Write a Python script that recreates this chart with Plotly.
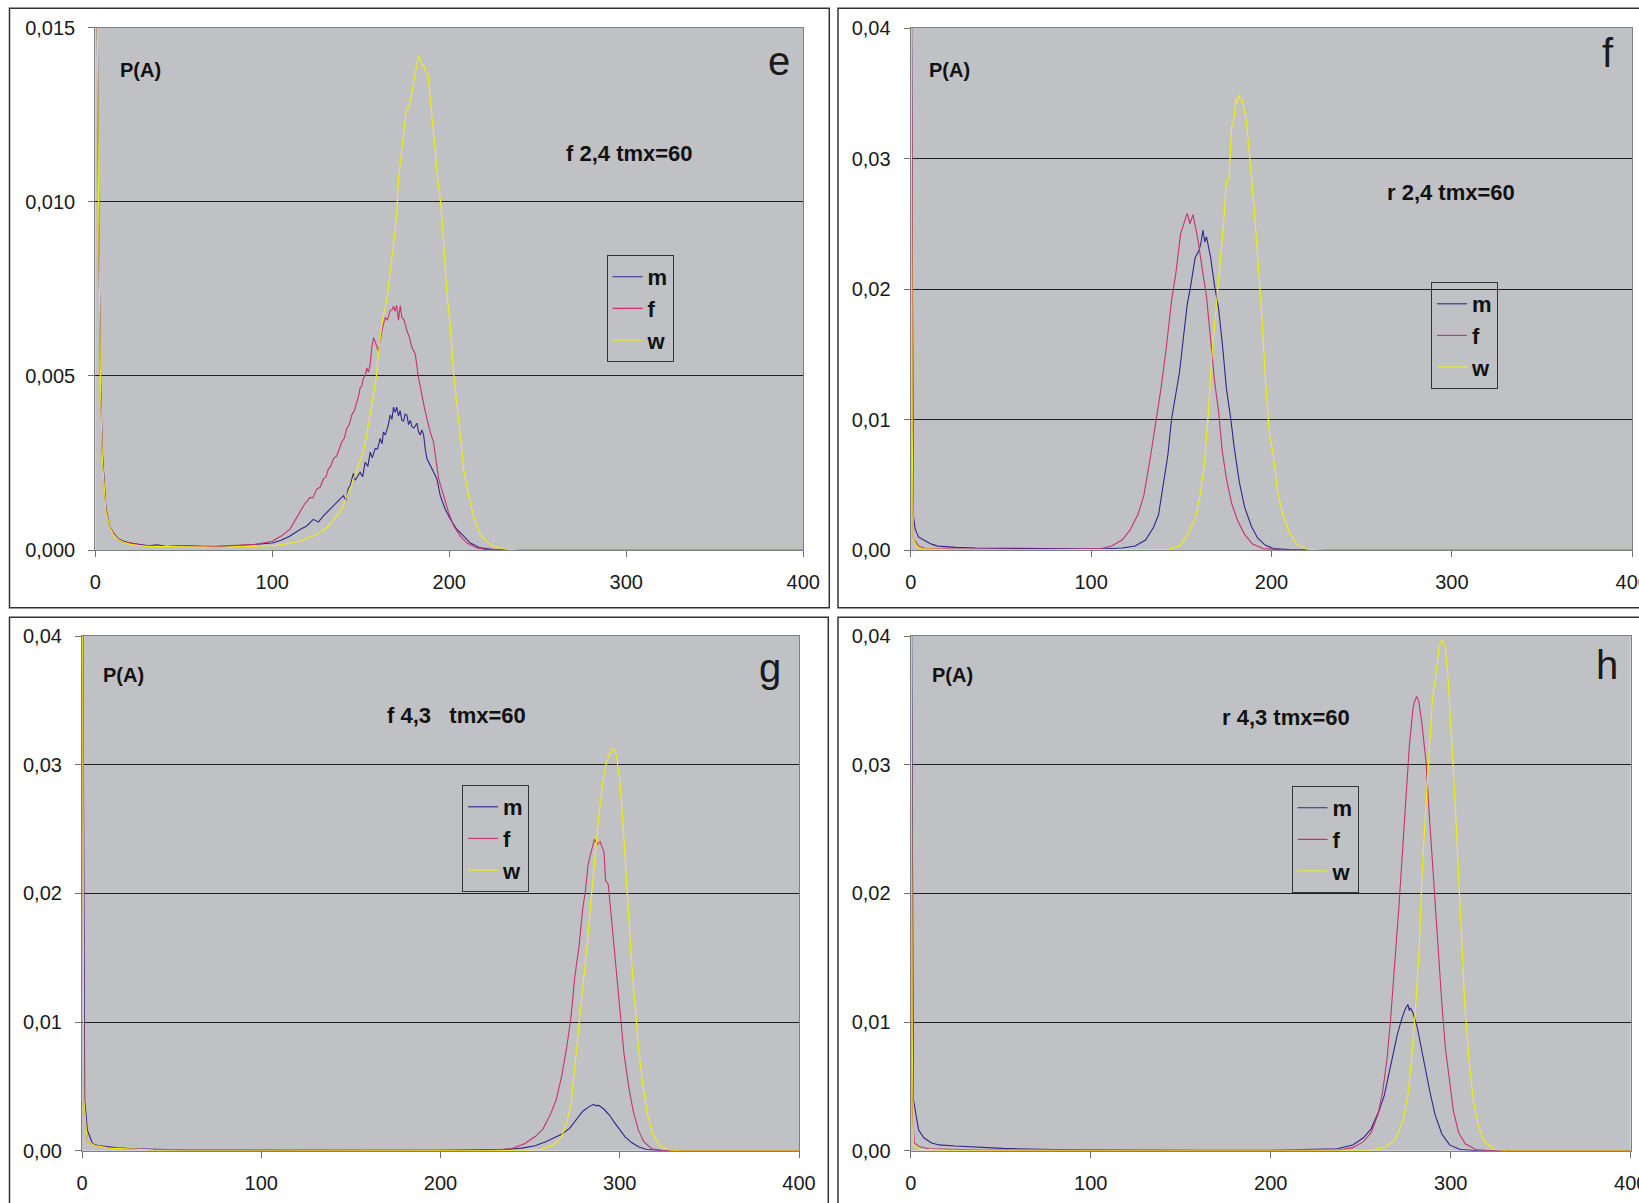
import plotly.graph_objects as go

W, H = 1639, 1203

# ---------------- data ----------------
series_names = ["m", "f", "w"]
x_ticks = [0, 100, 200, 300, 400]
y_ticks_e = [0, 0.005, 0.010, 0.015]
y_ticks_fgh = [0, 0.01, 0.02, 0.03, 0.04]

# panel e : "f 2,4 tmx=60"
e_m_x = [0, 1, 2, 3, 4, 6, 8, 10, 13, 16, 20, 25, 30, 35, 40, 50, 60, 70, 80, 90, 100, 105, 110, 115.7,
         119.4, 123.2, 126, 128.9, 132.6, 136.4, 140.2, 141.5, 143, 144, 145.8, 146.8, 148, 149.6, 151, 152.5,
         154, 155.3, 156.5, 158.1, 159.5, 160.9, 162, 162.8, 163.8, 164.7, 165.6, 166.6, 167.6, 168.5, 169.4,
         170.3, 171.3, 172.2, 173.2, 174.2, 175, 176, 177, 178, 178.9, 180, 181.7, 182.6, 183.6, 184.5, 185.5,
         186.4, 187.4, 190.2, 193, 194.9, 197.7, 200.6, 204.3, 208.1, 211.9, 217.5, 225, 240, 400]
e_m_y = [0.03, 0.016, 0.009, 0.0048, 0.0028, 0.0012, 0.0007, 0.0005, 0.00032, 0.00025, 0.0002, 0.00016, 0.00012,
         0.00015, 0.0001, 0.00012, 0.0001, 0.00009, 0.00012, 0.00015, 0.0002, 0.00028, 0.0004, 0.00059,
         0.00069, 0.00088, 0.0008, 0.00098, 0.00117, 0.00136, 0.00156, 0.00142, 0.00178, 0.00185, 0.0022, 0.002,
         0.0021, 0.00223, 0.0021, 0.00252, 0.0024, 0.00281, 0.00265, 0.00291, 0.0029, 0.0032, 0.00305, 0.00339,
         0.0033, 0.00344, 0.0036, 0.00388, 0.00375, 0.0041, 0.00395, 0.0041, 0.00385, 0.004, 0.00372, 0.0037,
         0.0039, 0.00388, 0.0036, 0.00372, 0.00354, 0.0035, 0.00364, 0.0034, 0.0033, 0.00345, 0.0033, 0.0029,
         0.00262, 0.00233, 0.00204, 0.00156, 0.00117, 0.00088, 0.00059, 0.0004, 0.0002, 0.00006, 0.00001, 0, 0]

e_f_x = [0, 1, 2, 3, 4, 6, 8, 10, 13, 16, 20, 25, 30, 40, 50, 60, 70, 80, 90, 100, 105, 110, 115.7,
         118, 121.3, 123, 125.1, 127, 128.9, 130.3, 131.7, 133, 134.5, 136.4, 137.8, 139.2, 140.6, 142.1, 143.5,
         144.9, 146.3, 147.7, 148.7, 149.6, 150.5, 151.5, 152.5, 153.4, 154.3, 155.3, 156.2, 157.2, 158.5, 160,
         161.9, 163.8, 165, 166.6, 167.7, 168.5, 169.4, 170.3, 171.3, 172.3, 173.2, 174.5, 176, 177.5, 178.9,
         180.8, 182.6, 184.5, 186.4, 189.2, 191.1, 192.1, 194, 196.8, 199.6, 202.5, 206.2, 210, 215.7, 221.3,
         235, 400]
e_f_y = [0.03, 0.016, 0.009, 0.0047, 0.0027, 0.0012, 0.0007, 0.0005, 0.0003, 0.00022, 0.0002, 0.00014, 0.00013,
         0.0001, 0.00013, 0.0001, 0.00011, 0.00013, 0.00016, 0.00025, 0.0004, 0.0006, 0.00107,
         0.0013, 0.00151, 0.0015, 0.00175, 0.0018, 0.00204, 0.0021, 0.00233, 0.0024, 0.00262, 0.0027, 0.0029,
         0.0031, 0.0032, 0.00349, 0.0036, 0.00388, 0.0040, 0.00426, 0.0044, 0.00465, 0.0047, 0.00494, 0.0050,
         0.00523, 0.0051, 0.00533, 0.0058, 0.0061, 0.0059, 0.00571, 0.0063, 0.00668, 0.0066, 0.00688, 0.0069,
         0.007, 0.00685, 0.00702, 0.0066, 0.00702, 0.00668, 0.0066, 0.0063, 0.0061, 0.00581, 0.00562, 0.00494,
         0.00446, 0.00397, 0.00339, 0.0031, 0.00272, 0.00204, 0.00156, 0.00107, 0.00069, 0.0004, 0.0002,
         0.00006, 0.00001, 0, 0]

e_w_x = [0, 1, 2, 3, 4, 6, 8, 10, 13, 16, 20, 25, 30, 40, 50, 60, 70, 80, 90, 100, 105, 110, 115.7, 120, 125.1,
         128, 130.8, 133.5, 136.4, 138.3, 140.2, 141.6, 143, 144.4, 145.8, 147.3, 148.7, 150, 151.5, 153, 154.3,
         155.2, 156.2, 157.4, 158.7, 159.5, 160, 161.2, 162.5, 163.6, 164.7, 165.7, 166.6, 167.8, 169.1, 169.8,
         170.4, 171.3, 172.2, 173.2, 174.5, 175.7, 176.8, 177.9, 179.3, 180.8, 181.6, 182.6, 183.5, 184.5, 185.5,
         186.6, 187.9, 189.2, 190.2, 191.1, 192, 193, 194, 194.9, 195.9, 196.8, 197.7, 198.7, 200.6, 202.5,
         204.3, 206.2, 208.1, 210.9, 213.8, 217.5, 223.2, 230.8, 240, 400]
e_w_y = [0.03, 0.016, 0.009, 0.0045, 0.0026, 0.0011, 0.0007, 0.00045, 0.0003, 0.00022, 0.00016, 0.00012, 0.0001,
         0.0001, 0.00009, 0.0001, 0.00008, 0.0001, 0.0001, 0.00012, 0.00015, 0.0002, 0.00025, 0.00035, 0.00044,
         0.00055, 0.00064, 0.0008, 0.00098, 0.0011, 0.00127, 0.0015, 0.00165, 0.0018, 0.00204, 0.0022, 0.00243,
         0.0026, 0.00281, 0.0032, 0.00359, 0.0039, 0.00426, 0.0046, 0.00494, 0.0054, 0.00571, 0.0062, 0.00668,
         0.0069, 0.00717, 0.0076, 0.00794, 0.0085, 0.009, 0.0094, 0.00978, 0.01065, 0.0111, 0.01161, 0.0121,
         0.0126, 0.0127, 0.01287, 0.0133, 0.01365, 0.0139, 0.01418, 0.0141, 0.0139, 0.01393, 0.0137, 0.01369,
         0.01297, 0.0125, 0.0121, 0.0115, 0.01084, 0.0105, 0.01007, 0.0095, 0.00891, 0.0081, 0.00736, 0.00639,
         0.00504, 0.00426, 0.0033, 0.00233, 0.00156, 0.00098, 0.00044, 0.00015, 0.00003, 0, 0]

# panel f : "r 2,4 tmx=60"
f_m_x = [0, 1, 1.4, 2.5, 4.3, 7.2, 11.6, 15, 18.8, 25, 36, 50, 65, 80, 94, 105, 117.2, 124.4, 130.2, 134.5,
         137.4, 140.3, 142.6, 144.6, 147, 149, 151.3, 153.3, 155.3, 157.7, 160, 161, 162, 163, 164, 165, 166.3,
         168.4, 170.7, 173, 175, 177.5, 179.3, 182.2, 185.1, 188.9, 192.4, 196.7, 201, 210, 225, 400]
f_m_y = [0.06, 0.006, 0.0027, 0.0016, 0.001, 0.00076, 0.00045, 0.0003, 0.00024, 0.0002, 0.00015, 0.00014, 0.00012,
         0.0001, 0.0001, 0.00008, 0.00015, 0.0003, 0.00076, 0.0017, 0.0027, 0.0052, 0.0073, 0.01, 0.0118, 0.0136,
         0.0164, 0.0188, 0.0203, 0.0224, 0.023, 0.0236, 0.0245, 0.0236, 0.024, 0.0232, 0.0224, 0.0203, 0.0185,
         0.0155, 0.0124, 0.01, 0.0079, 0.0052, 0.0033, 0.0018, 0.0009, 0.00036, 0.00012, 0.00003, 0, 0]

f_f_x = [0, 1, 1.4, 4.3, 8, 15, 30, 60, 90, 105.6, 111.4, 117.2, 121.5, 125.9, 129.3, 133.1, 136, 138.8, 141.7,
         144.6, 147, 149.6, 151.9, 153.3, 154.8, 156.5, 157.8, 159.1, 162, 164, 166.3, 168.4, 170.7, 172.7, 175,
         177.9, 180.8, 185.1, 189.5, 195.3, 205, 215, 400]
f_f_y = [0.06, 0.004, 0.0009, 0.0003, 0.00012, 0.0001, 0.00005, 0.00005, 0.00005, 0.00012, 0.0003, 0.00076,
         0.0015, 0.0027, 0.0042, 0.0073, 0.01, 0.0124, 0.0155, 0.0191, 0.0212, 0.0242, 0.0252, 0.0258, 0.025,
         0.0257, 0.0248, 0.0239, 0.0212, 0.0194, 0.0161, 0.013, 0.0106, 0.0076, 0.0055, 0.0036, 0.0024, 0.0012,
         0.00045, 0.00012, 0.00002, 0, 0]

f_w_x = [0, 0.8, 1.4, 3, 6, 20, 60, 120, 143.2, 149, 153.3, 157.7, 160.5, 162.9, 164.9, 166.9, 169.2, 171.5,
         173.6, 175, 176.5, 177.9, 179.3, 180.2, 181, 181.7, 182.7, 183.7, 186, 188, 190.3, 192.4, 194.7, 196.7,
         198.7, 201, 203.4, 206.3, 209.7, 214.1, 219.8, 230, 400]
f_w_y = [0.06, 0.01, 0.0009, 0.0003, 0.0001, 0.00003, 0.00002, 0.00002, 0.00006, 0.0003, 0.0011, 0.0024, 0.0042,
         0.0067, 0.0103, 0.0148, 0.0185, 0.0224, 0.0252, 0.0283, 0.0285, 0.0324, 0.033, 0.0346, 0.0342, 0.0349,
         0.0345, 0.0345, 0.033, 0.03, 0.0264, 0.0224, 0.0179, 0.013, 0.0091, 0.0073, 0.0045, 0.0027, 0.0014,
         0.00045, 0.00006, 0, 0]

# panel g : "f 4,3   tmx=60"
g_m_x = [0, 1, 1.5, 3, 5.9, 9, 13.3, 20, 28, 40, 60, 100, 150, 200, 235, 245.4, 252.8, 258.7, 263.1, 267.6, 272,
         276.4, 279.4, 282.3, 284, 285.3, 286.8, 288.3, 291.2, 294.2, 297.1, 300.1, 303, 306.6, 310.4, 314.9,
         325, 400]
g_m_y = [0.06, 0.012, 0.004, 0.0016, 0.00054, 0.0004, 0.00033, 0.00022, 0.00015, 0.0001, 0.00006, 0.00004,
         0.00003, 0.00003, 0.00009, 0.0002, 0.00039, 0.00069, 0.00098, 0.00128, 0.00173, 0.00248, 0.00307,
         0.00337, 0.0035, 0.0036, 0.0035, 0.00352, 0.00322, 0.00277, 0.00218, 0.00158, 0.00107, 0.00063, 0.0003,
         0.00009, 0, 0]

g_f_x = [0, 1, 3, 7.4, 15, 22, 40, 80, 120, 160, 200, 229.1, 239.5, 246.9, 252.8, 257.2, 261.6, 264.6, 267.6,
         270.5, 272.9, 274.9, 277.3, 279.4, 280.8, 282.3, 283.8, 285.9, 287.4, 289.1, 291.2, 292.1, 293.6,
         295.6, 297.7, 300.1, 302.4, 305.1, 307.5, 310.4, 313.4, 317.8, 325, 400]
g_f_y = [0.06, 0.004, 0.0007, 0.0004, 0.00022, 0.00015, 0.00008, 0.00005, 0.00005, 0.00004, 0.00004, 0.00003,
         0.00015, 0.00054, 0.0011, 0.0017, 0.0029, 0.004, 0.0058, 0.0081, 0.0105, 0.0135, 0.0159, 0.0189, 0.0201,
         0.0222, 0.0231, 0.0242, 0.0238, 0.024, 0.0232, 0.021, 0.0207, 0.0177, 0.0141, 0.0105, 0.0075, 0.0049,
         0.0031, 0.0016, 0.0007, 0.00015, 0, 0]

g_w_x = [0, 1, 3, 7.4, 15, 22, 40, 80, 150, 200, 240, 255.7, 263.1, 267.6, 270.5, 272.9, 274.9, 277, 279.4,
         281.7, 283.8, 285.9, 288.3, 290.6, 292.1, 294.2, 296.3, 298, 300.1, 302.1, 303.9, 306, 308.1, 310.4,
         312.8, 315.5, 318.4, 322.2, 328.2, 335, 400]
g_w_y = [0.06, 0.004, 0.0007, 0.0004, 0.0002, 0.00015, 0.00006, 0.00003, 0.00002, 0.00002, 0.00002, 0.00009,
         0.00045, 0.0011, 0.0022, 0.0037, 0.0064, 0.0093, 0.0126, 0.0159, 0.0192, 0.0225, 0.026, 0.0287, 0.0299,
         0.0308, 0.0313, 0.0308, 0.0287, 0.0248, 0.0204, 0.0159, 0.012, 0.0081, 0.0052, 0.0028, 0.0013, 0.00039,
         0.00003, 0, 0]

# panel h : "r 4,3 tmx=60"
h_m_x = [0, 1, 1.5, 4.4, 7.3, 11.6, 16, 24.7, 36.3, 51, 80, 120, 160, 200, 225.3, 236.9, 245.6, 251.5, 255.8,
         260.2, 263.1, 266, 268, 270.3, 272.7, 274.7, 276.2, 277, 277.6, 279.1, 281.4, 283.4, 285.8, 288.4,
         291.3, 295.1, 299.4, 305.2, 315, 400]
h_m_y = [0.06, 0.01, 0.004, 0.0016, 0.001, 0.0006, 0.00045, 0.00036, 0.00027, 0.00018, 0.00009, 0.00005,
         0.00004, 0.00004, 0.00009, 0.00015, 0.00045, 0.001, 0.0017, 0.0031, 0.0043, 0.0061, 0.0075, 0.009,
         0.0102, 0.011, 0.01137, 0.0109, 0.0111, 0.0107, 0.0096, 0.0081, 0.0064, 0.0046, 0.0028, 0.0013,
         0.00045, 0.00009, 0, 0]

h_f_x = [0, 1, 2, 5, 10, 20, 40, 100, 200, 236.9, 245.6, 251.5, 255.8, 259.6, 262.2, 264.5, 266.6, 268.9,
         271.2, 273.3, 275.3, 277, 279.1, 279.9, 281.1, 282.3, 284, 286.3, 288.4, 290.7, 292.7, 295.1, 297.1,
         299.4, 301.5, 304.4, 308.1, 314, 322, 400]
h_f_y = [0.06, 0.003, 0.0006, 0.0003, 0.00015, 0.0001, 0.00005, 0.00003, 0.00003, 0.00003, 0.00024, 0.0007,
         0.0014, 0.0028, 0.0046, 0.007, 0.0102, 0.0144, 0.0189, 0.0234, 0.0279, 0.0314, 0.0344, 0.0349, 0.0353,
         0.0349, 0.0332, 0.0302, 0.0255, 0.0204, 0.0159, 0.0114, 0.0079, 0.0052, 0.0031, 0.0014, 0.00054,
         0.00009, 0, 0]

h_w_x = [0, 0.8, 1.5, 5, 20, 100, 200, 255.8, 263.1, 268.9, 273.3, 276.2, 278.2, 280.5, 282.6, 284, 285.8,
         287.8, 289.8, 291.6, 293.6, 295.1, 296.8, 298.5, 300.3, 301.7, 303.2, 304.7, 306.1, 307.8, 310.2,
         312.5, 315.4, 318.9, 324.1, 332, 400]
h_w_y = [0.06, 0.01, 0.0004, 0.0001, 0.00003, 0.00002, 0.00002, 0.00003, 0.00024, 0.00084, 0.0022, 0.0043,
         0.007, 0.0111, 0.0159, 0.0213, 0.0258, 0.0308, 0.035, 0.0368, 0.0392, 0.0397, 0.0393, 0.0368, 0.0329,
         0.029, 0.0249, 0.0201, 0.0159, 0.0114, 0.007, 0.004, 0.0019, 0.0007, 0.00009, 0, 0]

panel_letters = ["e", "f", "g", "h"]
panel_titles = ["f 2,4 tmx=60", "r 2,4 tmx=60", "f 4,3   tmx=60", "r 4,3 tmx=60"]
y_label = "P(A)"

# ---------------- styling / layout ----------------
COLORS = {"m": "#33238c", "f": "#c8336e", "w": "#f2ee00"}
FONT = "Liberation Sans, Arial, sans-serif"
PLOT_BG = "#c0c1c5"


def px(x):
    return x / W


def py(y):
    return 1 - y / H


panels = [
    dict(data={"m": (e_m_x, e_m_y), "f": (e_f_x, e_f_y), "w": (e_w_x, e_w_y)},
         xd=(95.3, 803.3), yd=(27.5, 550), yr=[0, 0.015], yt=y_ticks_e, fmt=".3f",
         letter=(779, 61), title=(629, 154), pa=(118, 70), leg=(606.5, 255)),
    dict(data={"m": (f_m_x, f_m_y), "f": (f_f_x, f_f_y), "w": (f_w_x, f_w_y)},
         xd=(910.7, 1632.2), yd=(28, 550), yr=[0, 0.04], yt=y_ticks_fgh, fmt=".2f",
         letter=(1608, 53), title=(1451, 193), pa=(927, 70), leg=(1431, 282)),
    dict(data={"m": (g_m_x, g_m_y), "f": (g_f_x, g_f_y), "w": (g_w_x, g_w_y)},
         xd=(82, 799), yd=(636, 1150.7), yr=[0, 0.04], yt=y_ticks_fgh, fmt=".2f",
         letter=(770, 668), title=(456, 715), pa=(101, 675), leg=(462, 785)),
    dict(data={"m": (h_m_x, h_m_y), "f": (h_f_x, h_f_y), "w": (h_w_x, h_w_y)},
         xd=(910.7, 1630.7), yd=(636, 1150.7), yr=[0, 0.04], yt=y_ticks_fgh, fmt=".2f",
         letter=(1607, 665), title=(1286, 717), pa=(930, 675), leg=(1291.5, 786)),
]
boxes = [(9.5, 8.3, 829.3, 607.7), (838, 8.3, 1650, 607.7),
         (9.5, 617.3, 828.3, 1215), (838, 617.3, 1650, 1215)]

fig = go.Figure()
layout = dict(width=W, height=H, margin=dict(l=0, r=0, t=0, b=0, autoexpand=False),
              paper_bgcolor="white", plot_bgcolor=PLOT_BG, separators=", ",
              font=dict(family=FONT, color="#1a1a1a"), annotations=[], shapes=[])

for i, p in enumerate(panels):
    n = "" if i == 0 else str(i + 1)
    xa, ya = "x" + n, "y" + n
    legname = "legend" + n
    for s in series_names:
        xs, ys = p["data"][s]
        fig.add_trace(go.Scatter(x=xs, y=ys, mode="lines", name=s, xaxis=xa, yaxis=ya,
                                 line=dict(color=COLORS[s], width=1.1),
                                 legend=legname, legendgroup=f"{i}{s}", showlegend=True,
                                 hoverinfo="skip"))
    layout["xaxis" + n] = dict(domain=[px(p["xd"][0]), px(p["xd"][1])], anchor=ya, range=[0, 400],
                               tickvals=x_ticks, showgrid=False, zeroline=False, showline=True,
                               mirror=True, linecolor="#808080", linewidth=1.2, ticks="outside",
                               ticklen=6, tickcolor="#707070", ticklabelstandoff=8, automargin=False,
                               ticklabeloverflow="allow",
                               tickfont=dict(family=FONT, size=20, color="#1a1a1a"))
    layout["yaxis" + n] = dict(domain=[py(p["yd"][1]), py(p["yd"][0])], anchor=xa, range=p["yr"],
                               tickvals=p["yt"], tickformat=p["fmt"], showgrid=True,
                               gridcolor="#1e1e1e", gridwidth=1, zeroline=False, showline=True,
                               mirror=True, linecolor="#808080", linewidth=1.2, ticks="outside",
                               ticklen=6, tickcolor="#707070", ticklabelstandoff=9, automargin=False,
                               ticklabeloverflow="allow",
                               tickfont=dict(family=FONT, size=20, color="#1a1a1a"))
    layout[legname] = dict(x=px(p["leg"][0]), y=py(p["leg"][1]), xanchor="left", yanchor="top",
                           bgcolor="rgba(0,0,0,0)", bordercolor="#333333", borderwidth=1,
                           font=dict(family=FONT, size=22, color="#111111", weight="bold"),
                           tracegroupgap=0, itemwidth=30, traceorder="normal")
    layout["annotations"] += [
        dict(x=px(p["letter"][0]), y=py(p["letter"][1]), xref="paper", yref="paper",
             text=panel_letters[i], showarrow=False, xanchor="center", yanchor="middle",
             font=dict(family=FONT, size=40, color="#1a1a1a")),
        dict(x=px(p["title"][0]), y=py(p["title"][1]), xref="paper", yref="paper",
             text="<b>" + panel_titles[i].replace(" ", "&nbsp;") + "</b>", showarrow=False,
             xanchor="center", yanchor="middle", font=dict(family=FONT, size=22, color="#111111")),
        dict(x=px(p["pa"][0]), y=py(p["pa"][1]), xref="paper", yref="paper",
             text="<b>" + y_label + "</b>", showarrow=False, xanchor="left", yanchor="middle",
             font=dict(family=FONT, size=20, color="#111111")),
    ]

for (x0, y0, x1, y1) in boxes:
    layout["shapes"].append(dict(type="rect", xref="paper", yref="paper", x0=px(x0), x1=px(x1),
                                 y0=py(y1), y1=py(y0), line=dict(color="#333333", width=1.5),
                                 fillcolor="rgba(0,0,0,0)", layer="below"))

fig.update_layout(**layout)
fig.write_html("out.html")
